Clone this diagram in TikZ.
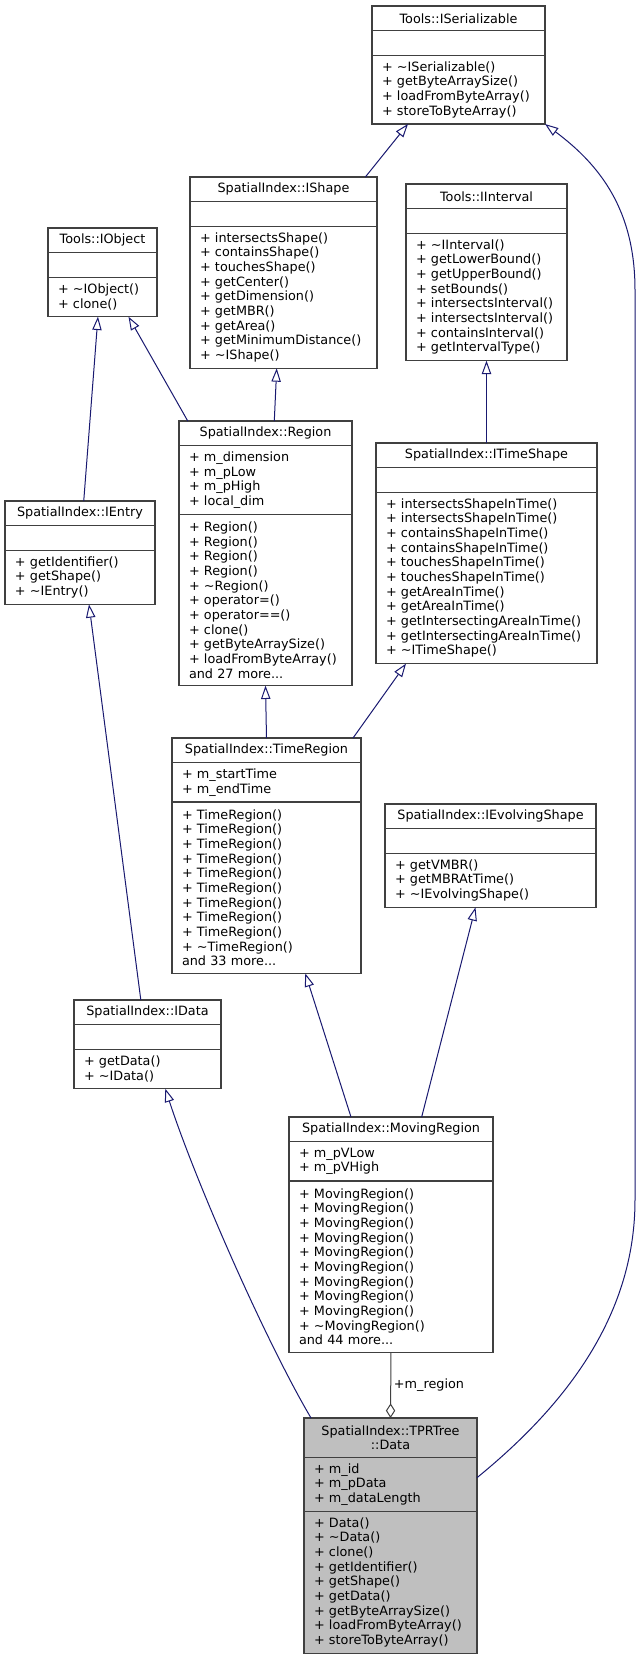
\documentclass[tikz,border=0pt]{standalone}
\usepackage{fontspec}
\usepackage{tikz}
\usetikzlibrary{positioning,arrows.meta,backgrounds}
\newfontfamily\dvsans{DejaVu Sans}
\newcommand{\umlfont}{\dvsans\fontsize{9.6pt}{11pt}\selectfont}
\newcommand{\tld}{\textasciitilde}
\definecolor{boxline}{RGB}{64,64,64}
\definecolor{inhblue}{RGB}{25,25,112}
\definecolor{aggline}{RGB}{64,64,64}
\definecolor{mainfill}{RGB}{191,191,191}

\begin{document}
\begin{tikzpicture}[
    x=0.75pt, y=-0.75pt,
    node distance=0pt,
    cls/.style={rectangle, draw=boxline, line width=0.8pt, outer sep=0pt, text width=#1, inner xsep=7.5pt, inner ysep=0pt, font=\umlfont},
    hdr/.style={cls=#1, align=center, minimum height=18.5pt, anchor=north west},
    sect/.style 2 args={cls=#1, align=left, minimum height=11pt*#2+7.5pt},
    inh/.style={draw=inhblue, line width=0.75pt, -{Triangle[open, fill=white, length=10pt, width=7pt]}},
    agg/.style={draw=aggline, line width=0.75pt, -{Diamond[open, fill=white, length=11pt, width=7pt]}}
  ]
    \useasboundingbox (0,0) rectangle (640,1661);

    % top row
    \node[hdr=114.75pt] (iserial) at (372,6) {Tools::ISerializable};
    \node[sect={114.75pt}{1}] (iserial-a) [below=of iserial] {};
    \node[sect={114.75pt}{4}] (iserial-m) [below=of iserial-a]
      {+ \tld{}ISerializable()\\+ getByteArraySize()\\+ loadFromByteArray()\\+ storeToByteArray()};

    \node[hdr=125.25pt] (ishape) at (190,177) {SpatialIndex::IShape};
    \node[sect={125.25pt}{1}] (ishape-a) [below=of ishape] {};
    \node[sect={125.25pt}{9}] (ishape-m) [below=of ishape-a]
      {+ intersectsShape()\\+ containsShape()\\+ touchesShape()\\+ getCenter()\\+ getDimension()\\+ getMBR()\\+ getArea()\\+ getMinimumDistance()\\+ \tld{}IShape()};

    \node[hdr=105.75pt] (iinterval) at (406,184) {Tools::IInterval};
    \node[sect={105.75pt}{1}] (iinterval-a) [below=of iinterval] {};
    \node[sect={105.75pt}{8}] (iinterval-m) [below=of iinterval-a]
      {+ \tld{}IInterval()\\+ getLowerBound()\\+ getUpperBound()\\+ setBounds()\\+ intersectsInterval()\\+ intersectsInterval()\\+ containsInterval()\\+ getIntervalType()};

    \node[hdr=66.75pt] (iobject) at (48,228) {Tools::IObject};
    \node[sect={66.75pt}{1}] (iobject-a) [below=of iobject] {};
    \node[sect={66.75pt}{2}] (iobject-m) [below=of iobject-a]
      {+ \tld{}IObject()\\+ clone()};

    % middle
    \node[hdr=114.75pt] (region) at (179,421) {SpatialIndex::Region};
    \node[sect={114.75pt}{4}] (region-a) [below=of region]
      {+ m\_dimension\\+ m\_pLow\\+ m\_pHigh\\+ local\_dim};
    \node[sect={114.75pt}{11}] (region-m) [below=of region-a]
      {+ Region()\\+ Region()\\+ Region()\\+ Region()\\+ \tld{}Region()\\+ operator=()\\+ operator==()\\+ clone()\\+ getByteArraySize()\\+ loadFromByteArray()\\and 27 more...};

    \node[hdr=150.75pt] (itimeshape) at (376,443) {SpatialIndex::ITimeShape};
    \node[sect={150.75pt}{1}] (itimeshape-a) [below=of itimeshape] {};
    \node[sect={150.75pt}{11}] (itimeshape-m) [below=of itimeshape-a]
      {+ intersectsShapeInTime()\\+ intersectsShapeInTime()\\+ containsShapeInTime()\\+ containsShapeInTime()\\+ touchesShapeInTime()\\+ touchesShapeInTime()\\+ getAreaInTime()\\+ getAreaInTime()\\+ getIntersectingAreaInTime()\\+ getIntersectingAreaInTime()\\+ \tld{}ITimeShape()};

    \node[hdr=97.5pt] (ientry) at (5,501) {SpatialIndex::IEntry};
    \node[sect={97.5pt}{1}] (ientry-a) [below=of ientry] {};
    \node[sect={97.5pt}{3}] (ientry-m) [below=of ientry-a]
      {+ getIdentifier()\\+ getShape()\\+ \tld{}IEntry()};

    \node[hdr=126.75pt] (timeregion) at (172,738) {SpatialIndex::TimeRegion};
    \node[sect={126.75pt}{2}] (timeregion-a) [below=of timeregion]
      {+ m\_startTime\\+ m\_endTime};
    \node[sect={126.75pt}{11}] (timeregion-m) [below=of timeregion-a]
      {+ TimeRegion()\\+ TimeRegion()\\+ TimeRegion()\\+ TimeRegion()\\+ TimeRegion()\\+ TimeRegion()\\+ TimeRegion()\\+ TimeRegion()\\+ TimeRegion()\\+ \tld{}TimeRegion()\\and 33 more...};

    \node[hdr=143.25pt] (ievolving) at (385,804) {SpatialIndex::IEvolvingShape};
    \node[sect={143.25pt}{1}] (ievolving-a) [below=of ievolving] {};
    \node[sect={143.25pt}{3}] (ievolving-m) [below=of ievolving-a]
      {+ getVMBR()\\+ getMBRAtTime()\\+ \tld{}IEvolvingShape()};

    % bottom
    \node[hdr=95.25pt] (idata) at (74,1000) {SpatialIndex::IData};
    \node[sect={95.25pt}{1}] (idata-a) [below=of idata] {};
    \node[sect={95.25pt}{2}] (idata-m) [below=of idata-a]
      {+ getData()\\+ \tld{}IData()};

    \node[hdr=138pt] (movingregion) at (289,1117) {SpatialIndex::MovingRegion};
    \node[sect={138pt}{2}] (movingregion-a) [below=of movingregion]
      {+ m\_pVLow\\+ m\_pVHigh};
    \node[sect={138pt}{11}] (movingregion-m) [below=of movingregion-a]
      {+ MovingRegion()\\+ MovingRegion()\\+ MovingRegion()\\+ MovingRegion()\\+ MovingRegion()\\+ MovingRegion()\\+ MovingRegion()\\+ MovingRegion()\\+ MovingRegion()\\+ \tld{}MovingRegion()\\and 44 more...};

    \node[hdr=114.75pt, minimum height=29.5pt] (data) at (304,1418)
      {SpatialIndex::TPRTree\\::Data};
    \node[sect={114.75pt}{3}] (data-a) [below=of data]
      {+ m\_id\\+ m\_pData\\+ m\_dataLength};
    \node[sect={114.75pt}{9}] (data-m) [below=of data-a]
      {+ Data()\\+ \tld{}Data()\\+ clone()\\+ getIdentifier()\\+ getShape()\\+ getData()\\+ getByteArraySize()\\+ loadFromByteArray()\\+ storeToByteArray()};

    \begin{scope}[on background layer]
      \fill[white] (0,0) rectangle (640,1661);
      \fill[mainfill] (data.north west) rectangle (data-m.south east);
    \end{scope}

    % inheritance
    \draw[inh] ([xshift=61.4pt]ishape.north) -- ([xshift=-37.9pt]iserial-m.south);
    \draw[inh] (itimeshape.north) -- (iinterval-m.south);
    \draw[inh] ([xshift=2.8pt]ientry.north) -- ([xshift=-3.4pt]iobject-m.south);
    \draw[inh] ([xshift=-58.3pt]region.north) -- ([xshift=19.5pt]iobject-m.south);
    \draw[inh] ([xshift=6.6pt]region.north) -- ([xshift=-5.1pt]ishape-m.south);
    \draw[inh] ([xshift=-5pt]idata.north) -- ([xshift=6.75pt]ientry-m.south);
    \draw[inh] (timeregion.north) -- (region-m.south);
    \draw[inh] ([xshift=64.9pt]timeregion.north) -- ([xshift=-60.4pt]itimeshape-m.south);
    \draw[inh] ([xshift=-30pt]movingregion.north) -- ([xshift=29.1pt]timeregion-m.south);
    \draw[inh] ([xshift=23pt]movingregion.north) -- ([xshift=-11.25pt]ievolving-m.south);
    \draw[inh] ([xshift=-59.6pt]data.north) .. controls (265,1340) and (195,1180) .. ([xshift=13.35pt]idata-m.south);
    \draw[inh] ([yshift=5pt]data-a.east) .. controls (560,1410) and (635,1320) .. (635,1200)
      -- (635,290) .. controls (635,210) and (600,165) .. (iserial-m.south east);

    % aggregation
    \draw[agg] (movingregion-m.south) -- node[right, inner xsep=2pt, font=\umlfont] (lblregion) {+m\_region} (data.north);
\end{tikzpicture}
\end{document}
